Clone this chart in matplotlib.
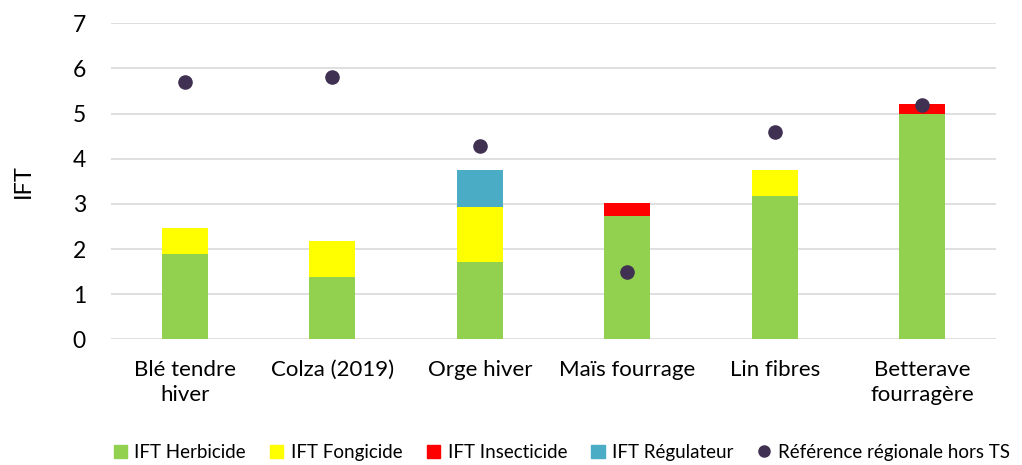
import numpy as np
import matplotlib.pyplot as plt
from matplotlib.lines import Line2D
from matplotlib.patches import Patch

cultures = ["Blé tendre\nhiver", "Colza (2019)", "Orge hiver", "Maïs fourrage",
            "Lin fibres", "Betterave\nfourragère"]
herbicide = [1.89, 1.37, 1.72, 2.74, 3.18, 4.98]
fongicide = [0.58, 0.80, 1.22, 0.0, 0.57, 0.0]
insecticide = [0.0, 0.0, 0.0, 0.27, 0.0, 0.24]
regulateur = [0.0, 0.0, 0.81, 0.0, 0.0, 0.0]
reference = [5.69, 5.81, 4.29, 1.49, 4.60, 5.19]

plt.rcParams['font.family'] = ['Lato', 'DejaVu Sans']

fig = plt.figure(figsize=(10.22, 4.65), dpi=100, facecolor='white')
ax = fig.add_axes([0.1086, 0.2703, 0.866, 0.6797])

x = np.arange(len(cultures))
w = 0.31
h = np.array(herbicide)
f = np.array(fongicide)
i = np.array(insecticide)
r = np.array(regulateur)
ax.bar(x, h, w, color='#92D050', zorder=2)
ax.bar(x, f, w, bottom=h, color='#FFFF00', zorder=2)
ax.bar(x, i, w, bottom=h + f, color='#FF0000', zorder=2)
ax.bar(x, r, w, bottom=h + f + i, color='#4BACC6', zorder=2)
ax.scatter(x, reference, s=90, color='#403152', zorder=3)

ax.set_xlim(-0.5, len(cultures) - 0.5)
ax.set_ylim(0, 7)
ax.set_yticks(range(8))
ax.set_xticks(x)
ax.set_xticklabels(cultures, fontsize=16, linespacing=1.3)
ax.tick_params(axis='y', labelsize=16.5, length=0, pad=18)
ax.tick_params(axis='x', length=0, pad=15)
ax.grid(axis='y', color='#D9D9D9', linewidth=1.2, zorder=0)
for s in ax.spines.values():
    s.set_visible(False)
ax.set_ylabel("IFT", fontsize=17, labelpad=28)

handles = [
    Patch(color='#92D050', label='IFT Herbicide'),
    Patch(color='#FFFF00', label='IFT Fongicide'),
    Patch(color='#FF0000', label='IFT Insecticide'),
    Patch(color='#4BACC6', label='IFT Régulateur'),
    Line2D([], [], marker='o', color='#403152', linestyle='none', markersize=8,
           label='Référence régionale hors TS'),
]
fig.legend(handles=handles, loc='center', bbox_to_anchor=(0.55, 0.027), ncol=5,
           frameon=False, fontsize=13.5, handlelength=0.7, handleheight=0.7,
           handletextpad=0.4, columnspacing=1.3)

fig.savefig('out.png', dpi=100)
